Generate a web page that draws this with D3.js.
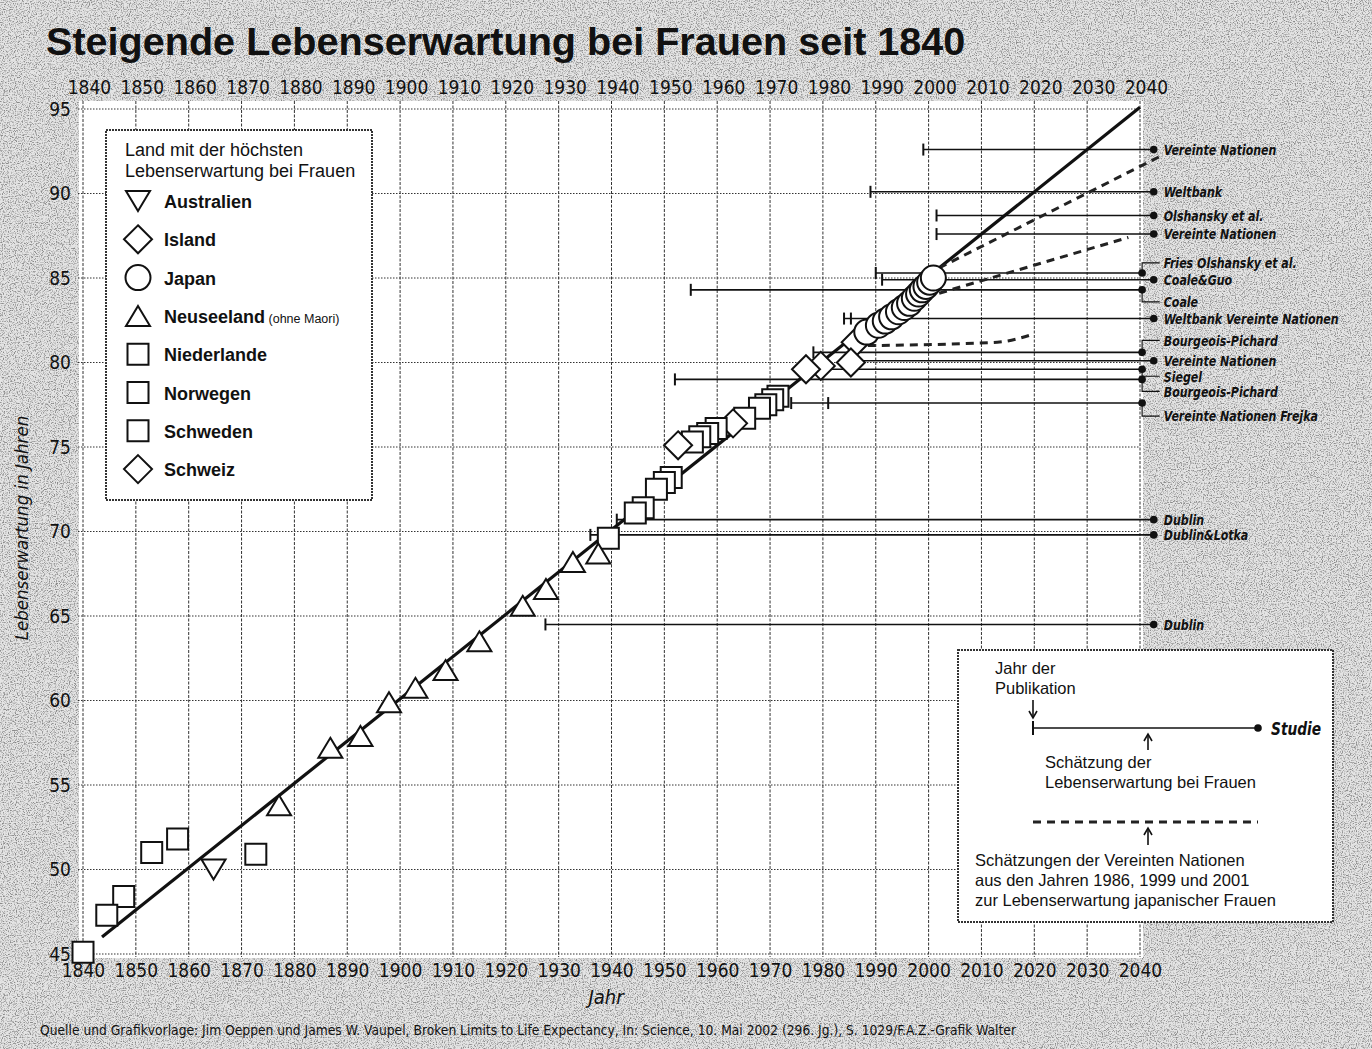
<!DOCTYPE html>
<html>
<head>
<meta charset="utf-8">
<script src="https://cdn.jsdelivr.net/npm/d3@7"></script>
<style>
  body { margin: 0; background: #d8d8d8; }
  svg { display: block; }
</style>
</head>
<body>
<svg id="chart"></svg>
<script>
// ---- data ----
let xTicks = [1840, 1850, 1860, 1870, 1880, 1890, 1900, 1910, 1920, 1930, 1940,
              1950, 1960, 1970, 1980, 1990, 2000, 2010, 2020, 2030, 2040];
let yTicks = [45, 50, 55, 60, 65, 70, 75, 80, 85, 90, 95];

// linear trend of record female life expectancy
let trendYears  = [1843.6, 2040];
let trendValues = [46.0, 95.1];

// record holders (years, life expectancy)
let squareYears  = [1840, 1844.5, 1847.7, 1853, 1857.9, 1872.7, 1939.4, 1944.5, 1946, 1948.5,
                    1950, 1951.3, 1955.3, 1956.7, 1958.2, 1959.8, 1965.2, 1968, 1969.2, 1970.5, 1971.5];
let squareValues = [45.1, 47.3, 48.4, 51.0, 51.8, 50.9, 69.6, 71.1, 71.4, 72.5,
                    72.9, 73.2, 75.3, 75.6, 75.8, 76.1, 76.7, 77.3, 77.5, 77.8, 78.0];
let triUpYears   = [1877.1, 1886.8, 1892.5, 1897.9, 1902.9, 1908.6, 1915.0, 1923.2, 1927.6, 1932.7, 1937.5];
let triUpValues  = [53.8, 57.2, 57.9, 59.9, 60.75, 61.8, 63.5, 65.6, 66.6, 68.2, 68.7];
let triDownYears  = [1864.7];
let triDownValues = [50.0];
let diamondYears  = [1952.6, 1963, 1976.8, 1979.6, 1985.3, 1986.2];
let diamondValues = [75.1, 76.4, 79.6, 79.8, 80.0, 81.2];
let circleYears  = [1988.3, 1990.5, 1991.8, 1993, 1994.3, 1995.4, 1996.4, 1997.3, 1998.1, 1998.8, 1999.5, 2000.2, 2000.9];
let circleValues = [81.8, 82.2, 82.45, 82.7, 83.0, 83.25, 83.5, 83.8, 84.05, 84.3, 84.5, 84.75, 85.0];

// UN projections for Japanese women (dashed)
let unDash1 = [[2002, 85.6], [2043.8, 92.2]];
let unDash2 = [[2002, 84.1], [2037.8, 87.4]];
let unDash3 = [[1988.5, 81.0], [2013, 81.2], [2020, 81.7]];

// asserted ceilings: study, value, year(s) of publication
let estLabels = ["Vereinte Nationen", "Weltbank", "Olshansky et al.", "Vereinte Nationen",
                 "Fries  Olshansky et al.", "Coale&Guo", "Coale", "Weltbank  Vereinte Nationen",
                 "Bourgeois-Pichard", "Vereinte Nationen", "Siegel", "Bourgeois-Pichard",
                 "Vereinte Nationen  Frejka", "Dublin", "Dublin&Lotka", "Dublin"];
let estValues = [92.6, 90.1, 88.7, 87.6, 85.3, 84.9, 84.3, 82.6, 80.6, 80.1, 79.6, 79.0, 77.6, 70.7, 69.8, 64.5];
let estPubYears = [[1999], [1989], [2001.5], [2001.5], [1990], [1991.2], [1955], [1984, 1985.3],
                   [1978.2], [1985], [1980], [1952], [1974, 1981], [1941], [1936], [1927.5]];

let legendNames  = ["Australien", "Island", "Japan", "Neuseeland", "Niederlande", "Norwegen", "Schweden", "Schweiz"];
let legendShapes = ["triDown", "diamond", "circle", "triUp", "square", "square", "square", "diamond"];

// ---- layout ----
let W = 1372, H = 1049;
let NARROW = "'Liberation Sans Narrow', 'Arial Narrow', 'DejaVu Sans Condensed', sans-serif";
let SANS = "'Liberation Sans', Arial, sans-serif";
// label shift (px) of the bracketed labels at the right; 0 = label next to its own dot
let labelShift = [0, 0, 0, 0, -10, 0, 12, 0, -12, 0, 7, 12, 13, 0, 0, 0];
let dotYearA = 2042.6, dotYearB = 2040.4;

let x = d3.scaleLinear().domain([1840, 2040]).range([83, 1140]);
let y = d3.scaleLinear().domain([45, 95]).range([954, 109]);

let svg = d3.select("#chart").attr("width", W).attr("height", H);

// newsprint grain on the background
let defs = svg.append("defs");
let grain = defs.append("filter").attr("id", "grain")
    .attr("x", 0).attr("y", 0).attr("width", 1).attr("height", 1);
grain.append("feTurbulence").attr("type", "fractalNoise")
    .attr("baseFrequency", 0.85).attr("numOctaves", 2).attr("seed", 5);
grain.append("feColorMatrix").attr("type", "matrix")
    .attr("values", "0 0 0 0 0.25  0 0 0 0 0.25  0 0 0 0 0.25  3.4 0 0 0 -1.58");

svg.append("rect").attr("width", W).attr("height", H).attr("fill", "#e4e4e4");
svg.append("rect").attr("width", W).attr("height", H).attr("filter", "url(#grain)");

// white plot field
svg.append("rect")
    .attr("x", x(1840) - 4).attr("y", y(95) - 8)
    .attr("width", x(2040) - x(1840) + 7).attr("height", y(45) - y(95) + 12)
    .attr("fill", "#fff");

// grid
let grid = svg.append("g").attr("stroke", "#333").attr("stroke-width", 1);
grid.selectAll(".vg").data(xTicks).enter().append("line")
    .attr("class", "vg")
    .attr("x1", d => x(d)).attr("x2", d => x(d))
    .attr("y1", y(95) - 8).attr("y2", y(45) + 3)
    .attr("stroke-dasharray", "3,1.5");
grid.selectAll(".hg").data(yTicks).enter().append("line")
    .attr("class", "hg")
    .attr("x1", x(1840) - 5).attr("x2", x(2040))
    .attr("y1", d => y(d)).attr("y2", d => y(d))
    .attr("stroke-dasharray", "1.5,1.5");

// axes (labels only)
function styleAxis(g) {
  g.select(".domain").remove();
  g.selectAll("text").attr("font-family", NARROW).attr("font-size", 19).attr("fill", "#111");
}
svg.append("g").attr("transform", "translate(0," + y(45) + ")")
    .call(d3.axisBottom(x).tickValues(xTicks).tickFormat(d3.format("d")).tickSize(0).tickPadding(10))
    .call(styleAxis);
svg.append("g").attr("transform", "translate(6," + y(95) + ")")
    .call(d3.axisTop(x).tickValues(xTicks).tickFormat(d3.format("d")).tickSize(0).tickPadding(15))
    .call(styleAxis);
svg.append("g").attr("transform", "translate(" + (x(1840) - 1) + ",0)")
    .call(d3.axisLeft(y).tickValues(yTicks).tickSize(0).tickPadding(11))
    .call(styleAxis);

// title, axis titles, source
svg.append("text").attr("x", 46).attr("y", 55)
    .attr("font-family", SANS).attr("font-weight", "bold").attr("font-size", 39.6).attr("fill", "#111")
    .text("Steigende Lebenserwartung bei Frauen seit 1840");
svg.append("text").attr("transform", "translate(28,528) rotate(-90)")
    .attr("text-anchor", "middle").attr("font-family", NARROW).attr("font-style", "italic")
    .attr("font-size", 18.5).attr("fill", "#111")
    .text("Lebenserwartung in Jahren");
svg.append("text").attr("x", 606).attr("y", 1004).attr("text-anchor", "middle")
    .attr("font-family", NARROW).attr("font-style", "italic").attr("font-size", 20).attr("fill", "#111")
    .text("Jahr");
svg.append("text").attr("x", 40).attr("y", 1035)
    .attr("font-family", NARROW).attr("font-size", 13.7).attr("fill", "#111")
    .text("Quelle und Grafikvorlage: Jim Oeppen und James W. Vaupel, Broken Limits to Life Expectancy, In: Science, 10. Mai 2002 (296. Jg.), S. 1029/F.A.Z.-Grafik Walter");

// legend box
let lg = svg.append("g");
lg.append("rect").attr("x", 106).attr("y", 130).attr("width", 266).attr("height", 370)
    .attr("fill", "#fff").attr("stroke", "#333").attr("stroke-width", 2).attr("stroke-dasharray", "2,1");
lg.append("text").attr("x", 125).attr("y", 156)
    .attr("font-family", SANS).attr("font-size", 18).attr("fill", "#111")
    .text("Land mit der höchsten");
lg.append("text").attr("x", 125).attr("y", 177)
    .attr("font-family", SANS).attr("font-size", 18).attr("fill", "#111")
    .text("Lebenserwartung bei Frauen");

let shapePaths = {
  square: d3.symbol(d3.symbolSquare, 21 * 21)(),
  triUp: "M0,-10L12,10H-12Z",
  triDown: "M0,10L12,-10H-12Z",
  diamond: "M0,-14L14,0L0,14L-14,0Z",
  circle: d3.symbol(d3.symbolCircle, Math.PI * 12.5 * 12.5)()
};

let legendItems = lg.selectAll(".item").data(legendNames).enter().append("g")
    .attr("class", "item")
    .attr("transform", (d, i) => "translate(138," + (201 + i * 38.3) + ")");
legendItems.append("path")
    .attr("d", (d, i) => shapePaths[legendShapes[i]])
    .attr("fill", "#fff").attr("stroke", "#111").attr("stroke-width", 2);
let legendText = legendItems.append("text").attr("x", 26).attr("y", 7)
    .attr("font-family", SANS).attr("font-weight", "bold").attr("font-size", 18).attr("fill", "#111")
    .text(d => d);
legendText.filter(d => d == "Neuseeland").append("tspan")
    .attr("font-weight", "normal").attr("font-size", 12.5).text(" (ohne Maori)");

// trend line
let line = d3.line().x(d => x(d[0])).y(d => y(d[1]));
let trend = trendYears.map((yr, i) => [yr, trendValues[i]]);
svg.append("path").attr("d", line(trend))
    .attr("fill", "none").attr("stroke", "#111").attr("stroke-width", 3.2);

// ceilings
let est = svg.append("g");
estLabels.forEach(function(label, i) {
  let yv = y(estValues[i]);
  let bracket = labelShift[i] != 0;
  let xDot = x(bracket ? dotYearB : dotYearA);
  let xStart = x(d3.min(estPubYears[i]));
  est.append("line").attr("x1", xStart).attr("x2", xDot).attr("y1", yv).attr("y2", yv)
      .attr("stroke", "#111").attr("stroke-width", 1.6);
  estPubYears[i].forEach(function(p) {
    est.append("line").attr("x1", x(p)).attr("x2", x(p)).attr("y1", yv - 6).attr("y2", yv + 6)
        .attr("stroke", "#111").attr("stroke-width", 2);
  });
  est.append("circle").attr("cx", xDot).attr("cy", yv).attr("r", 3.8).attr("fill", "#111");
  let ly = yv + labelShift[i];
  if (bracket) {
    est.append("path")
        .attr("d", "M" + xDot + "," + yv + "V" + ly + "H" + (x(dotYearA) + 6))
        .attr("fill", "none").attr("stroke", "#111").attr("stroke-width", 1.2);
  }
  // condensed italic, squeezed to the narrow newspaper face
  est.append("text")
      .attr("transform", "translate(" + (x(dotYearA) + 10) + "," + ly + ") scale(0.84,1)")
      .attr("dy", "0.36em")
      .attr("font-family", NARROW).attr("font-style", "italic").attr("font-weight", "bold")
      .attr("font-size", 14.6).attr("fill", "#111")
      .text(label);
});

// UN projections
svg.selectAll(".un").data([unDash1, unDash2, unDash3]).enter().append("path")
    .attr("class", "un")
    .attr("d", d3.line().curve(d3.curveMonotoneX).x(d => x(d[0])).y(d => y(d[1])))
    .attr("fill", "none").attr("stroke", "#222").attr("stroke-width", 3)
    .attr("stroke-dasharray", "8,6");

// record markers: earlier ones lie on top, Japan's circles overlap forward
function series(shape, years, values) {
  return years.map((yr, i) => ({shape: shape, year: yr, value: values[i]}));
}
let others = [].concat(
    series("square", squareYears, squareValues),
    series("triUp", triUpYears, triUpValues),
    series("triDown", triDownYears, triDownValues),
    series("diamond", diamondYears, diamondValues)
  ).sort((a, b) => b.year - a.year);
let japan = series("circle", circleYears, circleValues);

svg.append("g").selectAll("path").data(others.concat(japan)).enter().append("path")
    .attr("transform", d => "translate(" + x(d.year) + "," + y(d.value) + ")")
    .attr("d", d => shapePaths[d.shape])
    .attr("fill", "#fff").attr("stroke", "#111").attr("stroke-width", 2);

// explanation box
let ex = svg.append("g");
ex.append("rect").attr("x", 958).attr("y", 650).attr("width", 375).attr("height", 272)
    .attr("fill", "#fff").attr("stroke", "#333").attr("stroke-width", 2).attr("stroke-dasharray", "2,1");
function exText(tx, ty, s) {
  ex.append("text").attr("x", tx).attr("y", ty)
      .attr("font-family", SANS).attr("font-size", 16.5).attr("fill", "#111").text(s);
}
exText(995, 674, "Jahr der");
exText(995, 694, "Publikation");
ex.append("text").attr("transform", "translate(1271,735) scale(0.85,1)")
    .attr("font-family", NARROW).attr("font-style", "italic").attr("font-weight", "bold")
    .attr("font-size", 18).attr("fill", "#111").text("Studie");
exText(1045, 768, "Schätzung der");
exText(1045, 788, "Lebenserwartung bei Frauen");
exText(975, 866, "Schätzungen der Vereinten Nationen");
exText(975, 886, "aus den Jahren 1986, 1999 und 2001");
exText(975, 906, "zur Lebenserwartung japanischer Frauen");

ex.append("line").attr("x1", 1033).attr("x2", 1258).attr("y1", 728).attr("y2", 728)
    .attr("stroke", "#111").attr("stroke-width", 1.6);
ex.append("line").attr("x1", 1033).attr("x2", 1033).attr("y1", 721).attr("y2", 735)
    .attr("stroke", "#111").attr("stroke-width", 2);
ex.append("circle").attr("cx", 1258).attr("cy", 728).attr("r", 3.8).attr("fill", "#111");
ex.append("line").attr("x1", 1033).attr("x2", 1258).attr("y1", 822).attr("y2", 822)
    .attr("stroke", "#222").attr("stroke-width", 3).attr("stroke-dasharray", "8,6");

function arrow(ax, y1, y2) {
  let dir = y2 > y1 ? 1 : -1;
  ex.append("line").attr("x1", ax).attr("x2", ax).attr("y1", y1).attr("y2", y2)
      .attr("stroke", "#111").attr("stroke-width", 1.6);
  ex.append("path")
      .attr("d", "M" + (ax - 4) + "," + (y2 - dir * 7) + "L" + ax + "," + y2 + "L" + (ax + 4) + "," + (y2 - dir * 7))
      .attr("fill", "none").attr("stroke", "#111").attr("stroke-width", 1.6);
}
arrow(1033, 700, 718);
arrow(1148, 750, 734);
arrow(1148, 845, 828);
</script>
</body>
</html>
